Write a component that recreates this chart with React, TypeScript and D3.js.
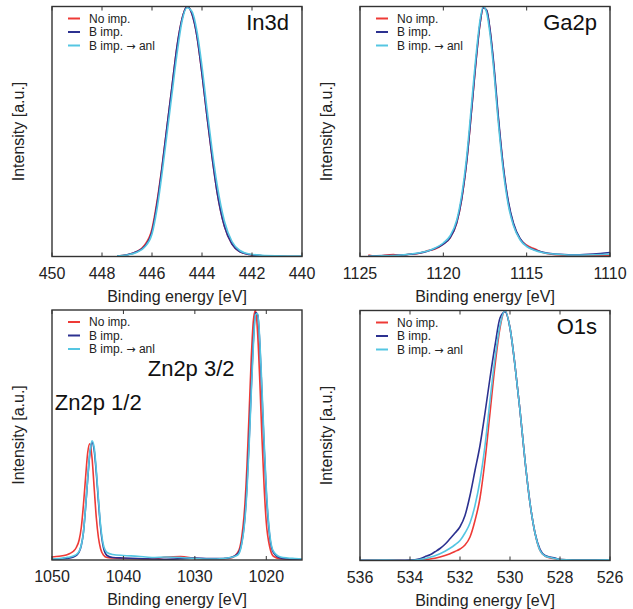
import React from "react";
import * as d3 from "d3";

const seriesNames = ["No imp.", "B imp.", "B imp. → anl"];
const seriesColors = ["#ee3a36", "#2c3190", "#55c6e2"];

// In3d
const in3dEnergy = [447.4, 447, 446.6, 446.3, 446, 445.8, 445.6, 445.4, 445.2, 445, 444.8, 444.6, 444.4, 444.2, 444, 443.8, 443.6, 443.4, 443.1, 442.8, 442.5, 442.1, 441.6, 441, 440];
const in3dNoImp = [0.002, 0.007, 0.02, 0.045, 0.11, 0.22, 0.36, 0.52, 0.68, 0.84, 0.95, 1.0, 0.97, 0.88, 0.73, 0.56, 0.4, 0.26, 0.12, 0.05, 0.02, 0.008, 0.003, 0.001, 0.0];
const in3dBImp = [0.002, 0.007, 0.02, 0.04, 0.1, 0.21, 0.355, 0.52, 0.68, 0.84, 0.95, 1.0, 0.97, 0.88, 0.73, 0.56, 0.4, 0.26, 0.12, 0.05, 0.02, 0.008, 0.003, 0.001, 0.0];
const in3dBImpAnl = [0.002, 0.006, 0.017, 0.037, 0.09, 0.19, 0.33, 0.49, 0.65, 0.81, 0.94, 0.995, 0.98, 0.9, 0.76, 0.59, 0.43, 0.29, 0.14, 0.06, 0.025, 0.01, 0.005, 0.003, 0.002];
const in3dTicks = [450, 448, 446, 444, 442, 440];

// Ga2p
const ga2pEnergy = [1124.5, 1124, 1123, 1122.5, 1122, 1121.5, 1121, 1120.5, 1120, 1119.6, 1119.2, 1118.9, 1118.6, 1118.3, 1118, 1117.8, 1117.6, 1117.4, 1117.2, 1117, 1116.7, 1116.4, 1116.1, 1115.8, 1115.4, 1115, 1114.5, 1114, 1113, 1112, 1111, 1110];
const ga2pNoImp = [0.006, 0.001, 0.008, 0.003, 0.01, 0.012, 0.022, 0.03, 0.05, 0.074, 0.133, 0.228, 0.378, 0.588, 0.808, 0.93, 0.995, 0.984, 0.905, 0.78, 0.55, 0.355, 0.215, 0.13, 0.07, 0.045, 0.03, 0.015, 0.006, 0.004, 0.005, 0.004];
const ga2pBImp = [0.002, 0.003, 0.004, 0.006, 0.009, 0.013, 0.02, 0.032, 0.05, 0.075, 0.135, 0.23, 0.38, 0.59, 0.81, 0.93, 0.995, 0.985, 0.91, 0.79, 0.56, 0.36, 0.22, 0.135, 0.072, 0.042, 0.026, 0.017, 0.009, 0.007, 0.01, 0.016];
const ga2pBImpAnl = [0.001, 0.002, 0.004, 0.006, 0.01, 0.014, 0.021, 0.034, 0.054, 0.082, 0.145, 0.245, 0.4, 0.615, 0.83, 0.945, 1.0, 0.975, 0.89, 0.765, 0.535, 0.34, 0.205, 0.125, 0.067, 0.04, 0.024, 0.015, 0.008, 0.006, 0.007, 0.009];
const ga2pTicks = [1125, 1120, 1115, 1110];

// Zn2p
const zn2pEnergy = [1050, 1049, 1048, 1047.5, 1047, 1046.6, 1046.2, 1045.9, 1045.6, 1045.3, 1045, 1044.7, 1044.4, 1044.1, 1043.8, 1043.5, 1043.2, 1042.8, 1042.3, 1041.5, 1040, 1038, 1036, 1034, 1032, 1030, 1028, 1026, 1025, 1024, 1023.5, 1023, 1022.7, 1022.4, 1022.1, 1021.8, 1021.5, 1021.2, 1020.9, 1020.6, 1020.3, 1020, 1019.5, 1019, 1018, 1017, 1016, 1015];
const zn2pNoImp = [0.012, 0.015, 0.02, 0.026, 0.035, 0.05, 0.08, 0.13, 0.22, 0.33, 0.43, 0.465, 0.41, 0.29, 0.17, 0.09, 0.045, 0.02, 0.01, 0.008, 0.006, 0.005, 0.004, 0.012, 0.014, 0.006, 0.003, 0.005, 0.008, 0.03, 0.08, 0.22, 0.38, 0.59, 0.81, 0.96, 1.0, 0.9, 0.71, 0.485, 0.29, 0.15, 0.05, 0.015, 0.005, 0.003, 0.004, 0.002];
const zn2pBImp = [0.003, 0.004, 0.006, 0.008, 0.012, 0.018, 0.032, 0.058, 0.11, 0.21, 0.325, 0.425, 0.47, 0.44, 0.35, 0.235, 0.13, 0.05, 0.018, 0.01, 0.008, 0.006, 0.004, 0.003, 0.005, 0.008, 0.006, 0.006, 0.01, 0.025, 0.06, 0.17, 0.3, 0.48, 0.69, 0.88, 0.99, 0.98, 0.86, 0.66, 0.45, 0.27, 0.09, 0.03, 0.008, 0.004, 0.003, 0.002];
const zn2pBImpAnl = [0.004, 0.006, 0.01, 0.012, 0.016, 0.022, 0.035, 0.06, 0.11, 0.21, 0.327, 0.43, 0.477, 0.451, 0.36, 0.245, 0.14, 0.06, 0.03, 0.022, 0.018, 0.015, 0.01, 0.012, 0.01, 0.006, 0.004, 0.006, 0.01, 0.02, 0.055, 0.16, 0.28, 0.459, 0.67, 0.864, 0.982, 0.986, 0.874, 0.684, 0.473, 0.288, 0.1, 0.035, 0.012, 0.008, 0.006, 0.004];
const zn2pTicks = [1050, 1040, 1030, 1020];

// O1s
const o1sEnergy = [536, 535, 534.2, 533.8, 533.6, 533.4, 533.2, 533, 532.8, 532.6, 532.4, 532.2, 532, 531.8, 531.6, 531.4, 531.2, 531, 530.8, 530.6, 530.4, 530.2, 530, 529.8, 529.6, 529.4, 529.2, 529, 528.8, 528.6, 528.4, 528.2, 528, 527, 526];
const o1sNoImp = [0.001, 0.001, 0.0, 0.001, 0.002, 0.004, 0.006, 0.009, 0.014, 0.02, 0.027, 0.036, 0.046, 0.062, 0.094, 0.16, 0.25, 0.4, 0.59, 0.78, 0.93, 1.0, 0.93, 0.78, 0.6, 0.4, 0.23, 0.11, 0.04, 0.018, 0.01, 0.007, 0.004, 0.002, 0.003];
const o1sBImp = [0.001, 0.001, 0.001, 0.003, 0.007, 0.015, 0.023, 0.035, 0.048, 0.065, 0.087, 0.11, 0.135, 0.18, 0.26, 0.36, 0.46, 0.59, 0.73, 0.86, 0.97, 0.995, 0.93, 0.78, 0.6, 0.4, 0.23, 0.11, 0.045, 0.02, 0.014, 0.01, 0.004, 0.002, 0.003];
const o1sBImpAnl = [0.001, 0.002, 0.0, 0.002, 0.004, 0.007, 0.013, 0.019, 0.027, 0.037, 0.049, 0.063, 0.08, 0.11, 0.15, 0.22, 0.32, 0.46, 0.64, 0.81, 0.94, 1.0, 0.93, 0.78, 0.6, 0.4, 0.23, 0.11, 0.04, 0.018, 0.012, 0.008, 0.004, 0.002, 0.003];
const o1sTicks = [536, 534, 532, 530, 528, 526];

const FONT = "'Liberation Sans', Arial, Helvetica, sans-serif";

type Note = { text: string; e: number; v: number };

type PanelProps = {
  id: string;
  left: number;
  top: number;
  domain: [number, number];
  ticks: number[];
  energy: number[];
  series: number[][];
  title?: string;
  notes?: Note[];
};

const W = 250;
const H = 250;

// the arrow glyph in Liberation Sans is tiny, so draw it with DejaVu
function LegendLabel({ text }: { text: string }) {
  const parts = text.split("→");
  if (parts.length === 1) return <>{text}</>;
  return (
    <>
      {parts[0]}
      <tspan fontFamily="'DejaVu Sans', sans-serif" fontSize={11}>→</tspan>
      {parts[1]}
    </>
  );
}

function Panel({ id, left, top, domain, ticks, energy, series, title, notes }: PanelProps) {
  const x = d3.scaleLinear().domain(domain).range([0, W]);
  const y = d3.scaleLinear().domain([0, 1]).range([H, 0]);
  const line = d3
    .line<number>()
    .x((_, i) => x(energy[i]))
    .y((v) => y(v))
    .curve(d3.curveMonotoneX);

  return (
    <g transform={`translate(${left},${top})`}>
      <defs>
        <clipPath id={`clip-${id}`}>
          <rect x={0} y={0} width={W} height={H} />
        </clipPath>
      </defs>
      <g clipPath={`url(#clip-${id})`}>
        {series.map((s, i) => (
          <path key={i} d={line(s) || ""} fill="none" stroke={seriesColors[i]} strokeWidth={1.6} strokeLinejoin="round" />
        ))}
      </g>
      <rect x={0} y={0} width={W} height={H} fill="none" stroke="#333" strokeWidth={1.4} />
      {ticks.map((t) => (
        <g key={t}>
          <line x1={x(t)} x2={x(t)} y1={H} y2={H - 4} stroke="#333" strokeWidth={1} />
          <line x1={x(t)} x2={x(t)} y1={0} y2={4} stroke="#333" strokeWidth={1} />
          <text x={x(t)} y={H + 22} textAnchor="middle" fontSize={16} fill="#222" fontFamily={FONT}>
            {t}
          </text>
        </g>
      ))}
      <text x={W / 2} y={H + 45} textAnchor="middle" fontSize={16} fill="#222" fontFamily={FONT}>
        Binding energy [eV]
      </text>
      <text
        transform={`translate(-28,${H / 2}) rotate(-90)`}
        textAnchor="middle"
        fontSize={16}
        fill="#222"
        fontFamily={FONT}
      >
        Intensity [a.u.]
      </text>
      {seriesNames.map((n, i) => (
        <g key={n} transform={`translate(0,${12 + i * 13.5})`}>
          <line x1={16} x2={28} y1={0} y2={0} stroke={seriesColors[i]} strokeWidth={2} />
          <text x={37} y={0} dy="0.35em" fontSize={12} fill="#222" fontFamily={FONT}>
            <LegendLabel text={n} />
          </text>
        </g>
      ))}
      {title && (
        <text x={W - 13} y={23} textAnchor="end" fontSize={22} fill="#111" fontFamily={FONT}>
          {title}
        </text>
      )}
      {notes &&
        notes.map((n) => (
          <text key={n.text} x={x(n.e)} y={y(n.v)} fontSize={22} fill="#111" fontFamily={FONT}>
            {n.text}
          </text>
        ))}
    </g>
  );
}

export default function App() {
  return (
    <svg width={633} height={609} style={{ position: "absolute", left: 0, top: 0, background: "#fff" }}>
      <Panel
        id="in3d"
        left={52}
        top={6.5}
        domain={[450, 440]}
        ticks={in3dTicks}
        energy={in3dEnergy}
        series={[in3dNoImp, in3dBImp, in3dBImpAnl]}
        title="In3d"
      />
      <Panel
        id="ga2p"
        left={360}
        top={6.5}
        domain={[1125, 1110]}
        ticks={ga2pTicks}
        energy={ga2pEnergy}
        series={[ga2pNoImp, ga2pBImp, ga2pBImpAnl]}
        title="Ga2p"
      />
      <Panel
        id="zn2p"
        left={52}
        top={310}
        domain={[1050, 1015]}
        ticks={zn2pTicks}
        energy={zn2pEnergy}
        series={[zn2pNoImp, zn2pBImp, zn2pBImpAnl]}
        notes={[
          { text: "Zn2p 1/2", e: 1049.6, v: 0.6 },
          { text: "Zn2p 3/2", e: 1036.6, v: 0.735 },
        ]}
      />
      <Panel
        id="o1s"
        left={360}
        top={310.5}
        domain={[536, 526]}
        ticks={o1sTicks}
        energy={o1sEnergy}
        series={[o1sNoImp, o1sBImp, o1sBImpAnl]}
        title="O1s"
      />
    </svg>
  );
}
